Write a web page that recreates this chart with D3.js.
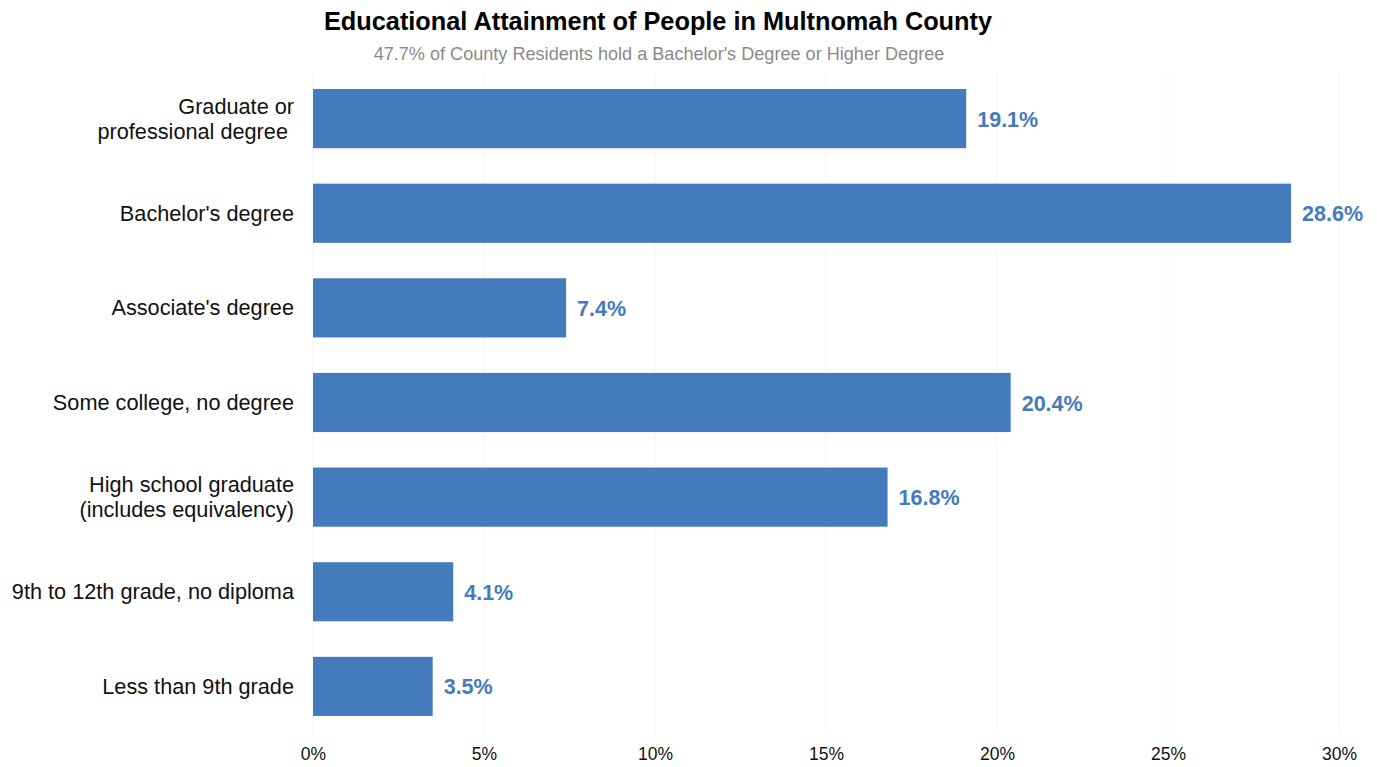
<!DOCTYPE html>
<html>
<head>
<meta charset="utf-8">
<script src="https://cdn.jsdelivr.net/npm/d3@7"></script>
<style>
  html, body { margin: 0; padding: 0; background: #fff; }
  svg { display: block; font-family: "Liberation Sans", Arial, sans-serif; }
</style>
</head>
<body>
<svg id="chart" width="1377" height="767"></svg>
<script>
// Educational attainment, share of residents (%), top to bottom
const categories = [
  ["Graduate or", "professional degree "],
  ["Bachelor's degree"],
  ["Associate's degree"],
  ["Some college, no degree"],
  ["High school graduate", "(includes equivalency)"],
  ["9th to 12th grade, no diploma"],
  ["Less than 9th grade"]
];
const values = [19.1, 28.6, 7.4, 20.4, 16.8, 4.1, 3.5];
const tickValues = [0, 5, 10, 15, 20, 25, 30];
const tickLabels = ["0%", "5%", "10%", "15%", "20%", "25%", "30%"];

const title = "Educational Attainment of People in Multnomah County";
const subtitle = "47.7% of County Residents hold a Bachelor's Degree or Higher Degree";

const barColor = "#447bbd";
const svg = d3.select("#chart");

const plot = { left: 313, right: 1339, top: 72, bottom: 733 };

const x = d3.scaleLinear().domain([0, 30]).range([plot.left, plot.right]);
const y = d3.scaleBand()
  .domain(d3.range(categories.length))
  .range([plot.top, plot.bottom])
  .paddingInner(0.375)
  .paddingOuter(0.18);

// faint vertical gridlines
svg.append("g")
  .selectAll("line")
  .data(tickValues)
  .join("line")
  .attr("x1", d => x(d)).attr("x2", d => x(d))
  .attr("y1", plot.top).attr("y2", plot.bottom)
  .attr("stroke", "#f5f5f5")
  .attr("stroke-width", 1);

// bars
svg.append("g")
  .selectAll("rect")
  .data(values)
  .join("rect")
  .attr("x", x(0))
  .attr("y", (d, i) => y(i))
  .attr("width", d => x(d) - x(0))
  .attr("height", y.bandwidth())
  .attr("fill", barColor);

// value labels
svg.append("g")
  .selectAll("text")
  .data(values)
  .join("text")
  .attr("x", d => x(d) + 11)
  .attr("y", (d, i) => y(i) + y.bandwidth() / 2 + 8)
  .attr("fill", barColor)
  .attr("font-size", 21.5)
  .attr("font-weight", "bold")
  .text(d => d.toFixed(1) + "%");

// category labels
const catG = svg.append("g");
categories.forEach((lines, i) => {
  const cy = y(i) + y.bandwidth() / 2;
  const lineH = 25;
  const first = cy + 7.5 - (lines.length - 1) * lineH / 2;
  const t = catG.append("text")
    .attr("text-anchor", "end")
    .attr("font-size", 21.7)
    .attr("fill", "#111")
    .attr("xml:space", "preserve")
    .style("white-space", "pre");
  lines.forEach((ln, j) => {
    t.append("tspan")
      .attr("x", plot.left - 19)
      .attr("y", first + j * lineH)
      .text(ln);
  });
});

// x axis tick labels
const xAxis = d3.axisBottom(x)
  .tickValues(tickValues)
  .tickFormat((d, i) => tickLabels[i])
  .tickSize(0)
  .tickPadding(0);
const axisG = svg.append("g")
  .attr("transform", `translate(0, ${plot.bottom + 15})`)
  .call(xAxis);
axisG.select(".domain").remove();
axisG.selectAll("text")
  .attr("font-size", 17.5)
  .attr("font-family", "Liberation Sans, Arial, sans-serif")
  .attr("fill", "#111");

// title and subtitle
svg.append("text")
  .attr("x", 658).attr("y", 30)
  .attr("text-anchor", "middle")
  .attr("font-size", 25.3)
  .attr("font-weight", "bold")
  .attr("fill", "#000")
  .text(title);

svg.append("text")
  .attr("x", 659).attr("y", 60)
  .attr("text-anchor", "middle")
  .attr("font-size", 18.1)
  .attr("fill", "#8a8a8a")
  .text(subtitle);
</script>
</body>
</html>
